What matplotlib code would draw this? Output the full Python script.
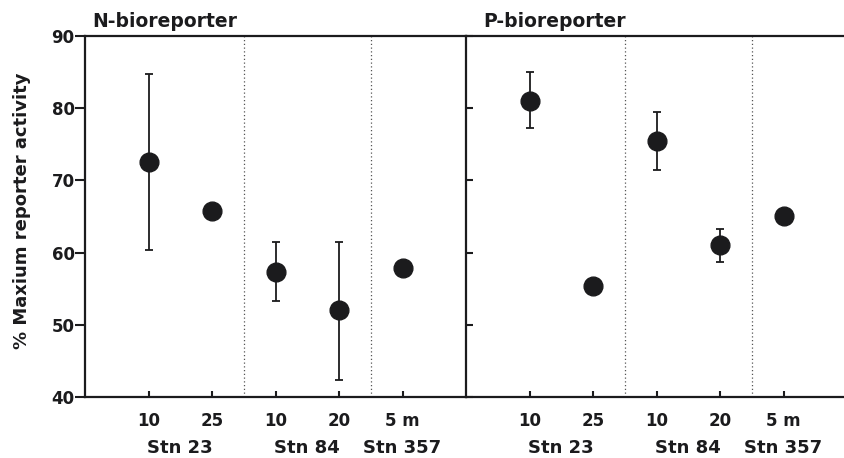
import numpy as np
import matplotlib
matplotlib.use("Agg")
import matplotlib.pyplot as plt
import matplotlib.transforms as mtransforms

plt.rcParams['font.family'] = ['DejaVu Sans']
plt.rcParams['font.weight'] = 'bold'

depth_labels = ["10", "25", "10", "20", "5 m"]
station_labels = ["Stn 23", "Stn 84", "Stn 357"]
station_centers = [1.5, 3.5, 5.0]
dividers = [2.5, 4.5]

n_mean = [72.6, 65.7, 57.3, 52.0, 57.8]
n_low = [60.4, 65.7, 53.3, 42.4, 57.8]
n_high = [84.8, 65.7, 61.4, 61.5, 57.8]

p_mean = [81.0, 55.4, 75.5, 61.0, 65.0]
p_low = [77.3, 55.4, 71.4, 58.7, 65.0]
p_high = [85.0, 55.4, 79.5, 63.3, 65.0]

ink = '#1b1b1d'

fig = plt.figure(figsize=(8.44, 4.58), dpi=100)
axN = fig.add_axes([85/844, 61/458, 381/844, 361/458])
axP = fig.add_axes([466/844, 61/458, 381/844, 361/458], sharey=axN)

x = np.arange(1, 6)


def draw_panel(ax, mean, low, high, title, title_x):
    mean = np.array(mean)
    yerr = np.vstack([mean - np.array(low), np.array(high) - mean])
    ax.errorbar(x, mean, yerr=yerr, fmt='o', color=ink, ms=13.5,
                elinewidth=1.3, capsize=3, capthick=1.3, zorder=3)
    for d in dividers:
        ax.axvline(d, color='#555555', lw=0.9, ls=(0, (1, 2)), zorder=1)
    ax.set_xlim(0, 6)
    ax.set_ylim(40, 90)
    ax.set_yticks([40, 50, 60, 70, 80, 90])
    ax.set_xticks(x)
    ax.set_xticklabels(depth_labels, fontsize=12, fontweight='bold')
    ax.tick_params(axis='x', direction='in', length=4, width=1.5,
                   pad=11, colors=ink)
    trans = mtransforms.blended_transform_factory(ax.transData, ax.transAxes)
    for c, lab in zip(station_centers, station_labels):
        ax.text(c, -0.141, lab, transform=trans, ha='center', va='center',
                fontsize=13, fontweight='bold', color=ink)
    ax.text(title_x, 1.025, title, transform=ax.transAxes, ha='left',
            va='baseline', fontsize=13.5, fontweight='bold', color=ink)
    for s in ['left', 'bottom', 'top']:
        ax.spines[s].set_linewidth(1.6)
        ax.spines[s].set_color(ink)
    ax.spines['right'].set_visible(False)


draw_panel(axN, n_mean, n_low, n_high, "N-bioreporter", 0.02)
draw_panel(axP, p_mean, p_low, p_high, "P-bioreporter", 0.045)

axN.tick_params(axis='y', direction='out', length=7, width=1.5, pad=0.5,
                labelsize=12, colors=ink)
for lab in axN.get_yticklabels():
    lab.set_fontweight('bold')

axP.tick_params(axis='y', direction='in', length=5, width=1.5,
                labelleft=False, colors=ink)

fig.text(22/844, 1 - 211/458, "% Maxium reporter activity", rotation=90,
         ha='center', va='center', fontsize=13, fontweight='bold', color=ink)

fig.savefig("out.png", dpi=100)
